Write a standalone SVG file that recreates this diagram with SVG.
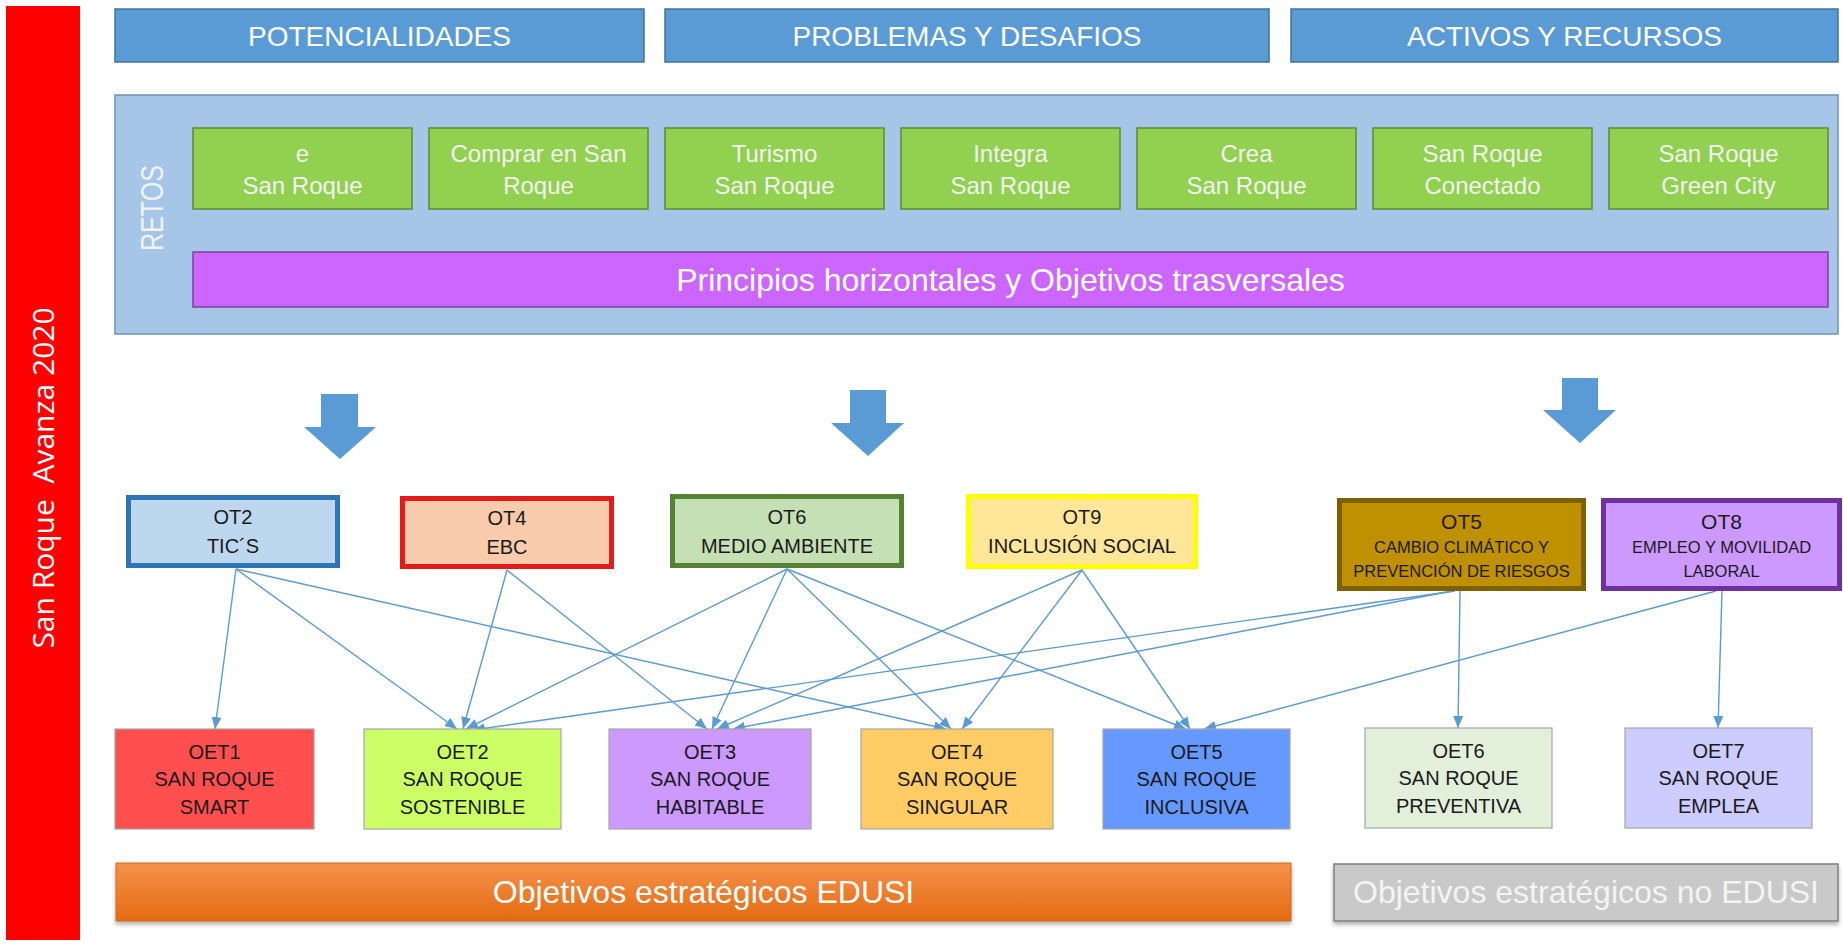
<svg xmlns="http://www.w3.org/2000/svg" width="1843" height="945" viewBox="0 0 1843 945">
<style>
.hdr{fill:#5B9BD5;stroke:#41719C;stroke-width:1.5}
.hdrt{font-family:"Liberation Sans",Arial,sans-serif;font-size:28px;fill:#FFFFFF;text-anchor:middle}
.reto{fill:#92D050;stroke:#5E8C31;stroke-width:1.5}
.retot{font-family:"Liberation Sans",Arial,sans-serif;font-size:24px;fill:#F2F2F2;text-anchor:middle}
.ott{font-family:"Liberation Sans",Arial,sans-serif;font-size:20px;fill:#1A1A1A;text-anchor:middle}
.otsm{font-family:"Liberation Sans",Arial,sans-serif;font-size:16.5px;fill:#1A1A1A;text-anchor:middle}
.oet{stroke:#A6A6A6;stroke-width:1.2}
.oett{font-family:"Liberation Sans",Arial,sans-serif;font-size:20px;fill:#1A1A1A;text-anchor:middle}
.big{font-family:"Liberation Sans",Arial,sans-serif;font-size:32px;text-anchor:middle}
.conn{stroke:#5B9BD5;stroke-width:1.4;fill:none;marker-end:url(#ah)}
.blk{fill:#5B9BD5}
</style>
<defs>
<marker id="ah" markerUnits="userSpaceOnUse" markerWidth="12" markerHeight="10" refX="12" refY="5" orient="auto">
<path d="M0,0 L12,5 L0,10 z" fill="#5B9BD5"/>
</marker>
<linearGradient id="og" x1="0" y1="0" x2="0" y2="1">
<stop offset="0" stop-color="#F5924A"/>
<stop offset="1" stop-color="#E46A12"/>
</linearGradient>
<filter id="sh" x="-5%" y="-20%" width="110%" height="150%">
<feDropShadow dx="0" dy="3" stdDeviation="2" flood-color="#000" flood-opacity="0.3"/>
</filter>
</defs>
<rect width="1843" height="945" fill="#FFFFFF"/>

<g id="side-bar">
<rect x="6" y="6" width="74" height="934" fill="#FF0000"/>
<text transform="translate(43,478) rotate(-90)" y="10.5" xml:space="preserve" style="font-family:'Open Sans','Liberation Sans',sans-serif;font-size:30px;fill:#FFFFFF;text-anchor:middle">San Roque  Avanza 2020</text>
</g>

<g id="hdr-potencialidades"><rect class="hdr" x="115" y="9" width="529" height="53"/><text class="hdrt" x="379.5" y="46">POTENCIALIDADES</text></g>
<g id="hdr-problemas"><rect class="hdr" x="665" y="9" width="604" height="53"/><text class="hdrt" x="967" y="46">PROBLEMAS Y DESAFIOS</text></g>
<g id="hdr-activos"><rect class="hdr" x="1291" y="9" width="547" height="53"/><text class="hdrt" x="1564.5" y="46">ACTIVOS Y RECURSOS</text></g>

<g id="retos">
<rect x="115" y="95" width="1723" height="239" fill="#A5C6E6" stroke="#6F93B8" stroke-width="1.5"/>
<text transform="translate(152,208) rotate(-90)" y="11" textLength="86" lengthAdjust="spacingAndGlyphs" style="font-family:'Liberation Sans',Arial,sans-serif;font-size:31px;fill:#F2F2F2;text-anchor:middle">RETOS</text>
</g>

<g id="reto-e"><rect class="reto" x="193" y="128" width="219" height="81"/><text class="retot" x="302.5" y="161.5">e</text><text class="retot" x="302.5" y="193.5">San Roque</text></g>
<g id="reto-comprar"><rect class="reto" x="429" y="128" width="219" height="81"/><text class="retot" x="538.5" y="161.5">Comprar en San</text><text class="retot" x="538.5" y="193.5">Roque</text></g>
<g id="reto-turismo"><rect class="reto" x="665" y="128" width="219" height="81"/><text class="retot" x="774.5" y="161.5">Turismo</text><text class="retot" x="774.5" y="193.5">San Roque</text></g>
<g id="reto-integra"><rect class="reto" x="901" y="128" width="219" height="81"/><text class="retot" x="1010.5" y="161.5">Integra</text><text class="retot" x="1010.5" y="193.5">San Roque</text></g>
<g id="reto-crea"><rect class="reto" x="1137" y="128" width="219" height="81"/><text class="retot" x="1246.5" y="161.5">Crea</text><text class="retot" x="1246.5" y="193.5">San Roque</text></g>
<g id="reto-conectado"><rect class="reto" x="1373" y="128" width="219" height="81"/><text class="retot" x="1482.5" y="161.5">San Roque</text><text class="retot" x="1482.5" y="193.5">Conectado</text></g>
<g id="reto-green"><rect class="reto" x="1609" y="128" width="219" height="81"/><text class="retot" x="1718.5" y="161.5">San Roque</text><text class="retot" x="1718.5" y="193.5">Green City</text></g>

<g id="principios"><rect x="193" y="252" width="1635" height="55" fill="#CC66FF" stroke="#7E3FA3" stroke-width="1.5"/><text class="big" x="1010.5" y="291" fill="#FFFFFF">Principios horizontales y Objetivos trasversales</text></g>

<g id="block-arrows">
<path class="blk" d="M321,394 H358 V427 H376 L340,459 L304,427 H321 Z"/>
<path class="blk" d="M850,390 H886 V423 H904 L868,456 L831,423 H850 Z"/>
<path class="blk" d="M1562,378 H1598 V410 H1616 L1580,443 L1543,410 H1562 Z"/>
</g>

<g id="connectors">
<line class="conn" x1="236" y1="569" x2="215" y2="729"/>
<line class="conn" x1="236" y1="569" x2="457" y2="729"/>
<line class="conn" x1="236" y1="569" x2="946" y2="729"/>
<line class="conn" x1="507" y1="570" x2="463" y2="729"/>
<line class="conn" x1="507" y1="570" x2="707" y2="729"/>
<line class="conn" x1="787" y1="569" x2="466" y2="729"/>
<line class="conn" x1="787" y1="569" x2="712" y2="729"/>
<line class="conn" x1="787" y1="569" x2="951" y2="729"/>
<line class="conn" x1="787" y1="569" x2="1186" y2="729"/>
<line class="conn" x1="1082" y1="570" x2="717" y2="729"/>
<line class="conn" x1="1082" y1="570" x2="962" y2="729"/>
<line class="conn" x1="1082" y1="570" x2="1190" y2="729"/>
<line class="conn" x1="1455" y1="591" x2="473" y2="730"/>
<line class="conn" x1="1452" y1="591" x2="733" y2="729"/>
<line class="conn" x1="1460" y1="591" x2="1458" y2="728"/>
<line class="conn" x1="1716" y1="591" x2="1204" y2="729"/>
<line class="conn" x1="1722" y1="591" x2="1718" y2="728"/>
</g>

<g id="ot2"><rect x="128.5" y="497.5" width="209" height="68" fill="#BDD7EE" stroke="#2E75B6" stroke-width="5"/><text class="ott" x="233" y="524">OT2</text><text class="ott" x="233" y="553">TIC´S</text></g>
<g id="ot4"><rect x="402.5" y="498.5" width="209" height="68" fill="#F8CBAD" stroke="#E31B1B" stroke-width="5"/><text class="ott" x="507" y="525">OT4</text><text class="ott" x="507" y="554">EBC</text></g>
<g id="ot6"><rect x="672.5" y="496.5" width="229" height="69" fill="#C5E0B4" stroke="#548235" stroke-width="5"/><text class="ott" x="787" y="524">OT6</text><text class="ott" x="787" y="553">MEDIO AMBIENTE</text></g>
<g id="ot9"><rect x="968.5" y="496.5" width="227" height="70" fill="#FFE699" stroke="#FFFF00" stroke-width="5"/><text class="ott" x="1082" y="524">OT9</text><text class="ott" x="1082" y="553">INCLUSIÓN SOCIAL</text></g>
<g id="ot5"><rect x="1339.5" y="500.5" width="244" height="88" fill="#BF9000" stroke="#7F6000" stroke-width="5"/><text class="ott" x="1461.5" y="529" style="font-size:21px">OT5</text><text class="otsm" x="1461.5" y="553">CAMBIO CLIMÁTICO Y</text><text class="otsm" x="1461.5" y="577">PREVENCIÓN DE RIESGOS</text></g>
<g id="ot8"><rect x="1603.5" y="500.5" width="236" height="88" fill="#CC99FF" stroke="#7030A0" stroke-width="5"/><text class="ott" x="1721.5" y="529" style="font-size:21px">OT8</text><text class="otsm" x="1721.5" y="553">EMPLEO Y MOVILIDAD</text><text class="otsm" x="1721.5" y="577">LABORAL</text></g>

<g id="oet1"><rect class="oet" x="115" y="729" width="199" height="100" fill="#FF4F4F"/><text class="oett" x="214.5" y="759">OET1</text><text class="oett" x="214.5" y="786">SAN ROQUE</text><text class="oett" x="214.5" y="814">SMART</text></g>
<g id="oet2"><rect class="oet" x="364" y="729" width="197" height="100" fill="#CCFF66"/><text class="oett" x="462.5" y="759">OET2</text><text class="oett" x="462.5" y="786">SAN ROQUE</text><text class="oett" x="462.5" y="814">SOSTENIBLE</text></g>
<g id="oet3"><rect class="oet" x="609" y="729" width="202" height="100" fill="#CC99FF"/><text class="oett" x="710" y="759">OET3</text><text class="oett" x="710" y="786">SAN ROQUE</text><text class="oett" x="710" y="814">HABITABLE</text></g>
<g id="oet4"><rect class="oet" x="861" y="729" width="192" height="100" fill="#FFCC66"/><text class="oett" x="957" y="759">OET4</text><text class="oett" x="957" y="786">SAN ROQUE</text><text class="oett" x="957" y="814">SINGULAR</text></g>
<g id="oet5"><rect class="oet" x="1103" y="729" width="187" height="100" fill="#6699FF"/><text class="oett" x="1196.5" y="759">OET5</text><text class="oett" x="1196.5" y="786">SAN ROQUE</text><text class="oett" x="1196.5" y="814">INCLUSIVA</text></g>
<g id="oet6"><rect class="oet" x="1365" y="728" width="187" height="100" fill="#E2EFDA"/><text class="oett" x="1458.5" y="758">OET6</text><text class="oett" x="1458.5" y="785">SAN ROQUE</text><text class="oett" x="1458.5" y="813">PREVENTIVA</text></g>
<g id="oet7"><rect class="oet" x="1625" y="728" width="187" height="100" fill="#CCCCFF"/><text class="oett" x="1718.5" y="758">OET7</text><text class="oett" x="1718.5" y="785">SAN ROQUE</text><text class="oett" x="1718.5" y="813">EMPLEA</text></g>

<g id="edusi"><rect x="116" y="863" width="1175" height="58" fill="url(#og)" stroke="#D9661A" stroke-width="1" filter="url(#sh)"/><text class="big" x="703.5" y="903" fill="#FFFFFF">Objetivos estratégicos EDUSI</text></g>
<g id="no-edusi"><rect x="1334" y="864" width="504" height="57" fill="#C9C9C9" stroke="#7F7F7F" stroke-width="1.5" filter="url(#sh)"/><text class="big" x="1586" y="903" fill="#F4F4F4">Objetivos estratégicos no EDUSI</text></g>
</svg>
